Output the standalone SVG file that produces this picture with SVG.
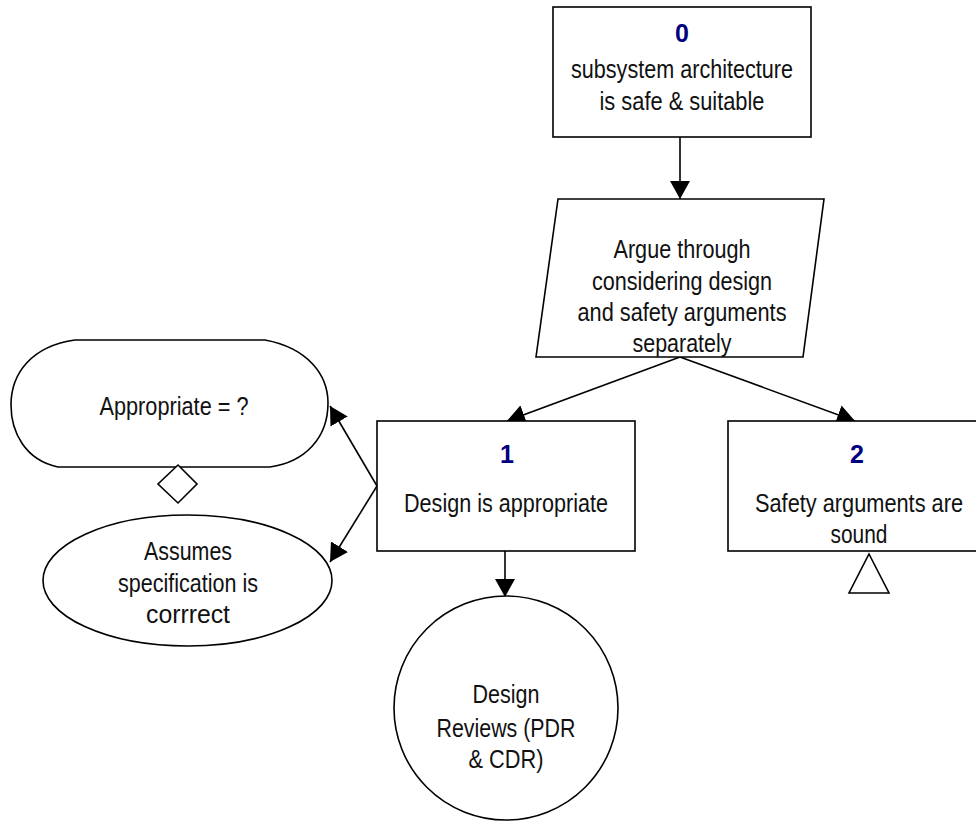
<svg xmlns="http://www.w3.org/2000/svg" width="976" height="821" viewBox="0 0 976 821">
<defs>
<marker id="arr" markerUnits="userSpaceOnUse" markerWidth="18" markerHeight="20" refX="18" refY="10" orient="auto">
<path d="M0,0 L18,10 L0,20 z" fill="#000"/>
</marker>
<style>
.s{fill:#fff;stroke:#000;stroke-width:1.6}
.t{font-family:"Liberation Sans",Arial,sans-serif;font-size:25.5px;fill:#111;text-anchor:middle}
.n{font-family:"Liberation Sans",Arial,sans-serif;font-size:25px;font-weight:bold;fill:#000080;text-anchor:middle}
.c{stroke:#000;stroke-width:1.6;fill:none;marker-end:url(#arr)}
</style>
</defs>
<rect width="976" height="821" fill="#fff"/>
<g id="connectors">
<line class="c" x1="680" y1="137" x2="680" y2="199"/>
<line class="c" x1="680" y1="357" x2="507" y2="421"/>
<line class="c" x1="680" y1="357" x2="855" y2="421"/>
<line class="c" x1="377" y1="486" x2="330" y2="406"/>
<line class="c" x1="377" y1="486" x2="330" y2="562"/>
<line class="c" x1="505" y1="551" x2="505" y2="597"/>
</g>
<g id="node0">
<rect class="s" x="553" y="7" width="258" height="130"/>
<text class="n" x="682" y="42">0</text>
<text class="t" x="682" y="78" textLength="222" lengthAdjust="spacingAndGlyphs">subsystem architecture</text>
<text class="t" x="682" y="110" textLength="165" lengthAdjust="spacingAndGlyphs">is safe &amp; suitable</text>
</g>
<g id="strategy">
<polygon class="s" points="558,199 824,199 803,357 536,357"/>
<text class="t" x="682" y="258" textLength="137" lengthAdjust="spacingAndGlyphs">Argue through</text>
<text class="t" x="682" y="290" textLength="180" lengthAdjust="spacingAndGlyphs">considering design</text>
<text class="t" x="682" y="321" textLength="209" lengthAdjust="spacingAndGlyphs">and safety arguments</text>
<text class="t" x="682" y="352" textLength="99" lengthAdjust="spacingAndGlyphs">separately</text>
</g>
<g id="node1">
<rect class="s" x="377" y="421" width="258" height="130"/>
<text class="n" x="507" y="463">1</text>
<text class="t" x="506" y="512" textLength="204" lengthAdjust="spacingAndGlyphs">Design is appropriate</text>
</g>
<g id="node2">
<rect class="s" x="728" y="421" width="262" height="130"/>
<text class="n" x="857" y="463">2</text>
<text class="t" x="859" y="512" textLength="208" lengthAdjust="spacingAndGlyphs">Safety arguments are</text>
<text class="t" x="859" y="543" textLength="57" lengthAdjust="spacingAndGlyphs">sound</text>
</g>
<g id="undeveloped2">
<polygon class="s" points="869,554 889,593 849,593"/>
</g>
<g id="justification">
<path class="s" d="M75,340 L265,340 C308,348 328,375 328,403 C328,438 305,462 270,467 L58,467 C25,460 11,432 11,405 C11,373 32,346 75,340 Z"/>
<text class="t" x="174" y="415" textLength="149" lengthAdjust="spacingAndGlyphs">Appropriate = ?</text>
</g>
<g id="context-diamond">
<polygon class="s" points="178,465 197,484 178,503 158,484"/>
</g>
<g id="assumption">
<ellipse class="s" cx="187.5" cy="580.5" rx="144.5" ry="65.5"/>
<text class="t" x="188" y="560" textLength="88" lengthAdjust="spacingAndGlyphs">Assumes</text>
<text class="t" x="188" y="592" textLength="140" lengthAdjust="spacingAndGlyphs">specification is</text>
<text class="t" x="188" y="623" textLength="84" lengthAdjust="spacingAndGlyphs">corrrect</text>
</g>
<g id="solution">
<circle class="s" cx="506" cy="708" r="112"/>
<text class="t" x="506" y="703" textLength="67" lengthAdjust="spacingAndGlyphs">Design</text>
<text class="t" x="506" y="737" textLength="139" lengthAdjust="spacingAndGlyphs">Reviews (PDR</text>
<text class="t" x="506" y="768" textLength="75" lengthAdjust="spacingAndGlyphs">&amp; CDR)</text>
</g>
</svg>
